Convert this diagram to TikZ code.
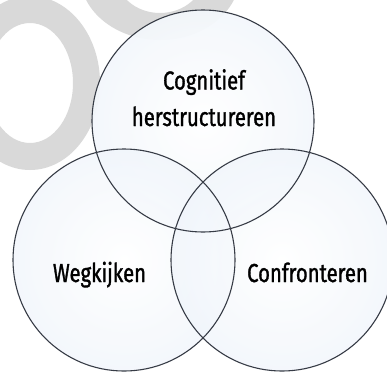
\documentclass[tikz,border=0pt]{standalone}
\usepackage{fontspec}
\newfontfamily\lblfont[FakeStretch=0.78,FakeBold=1.2]{Fira Sans}
\definecolor{wmgray}{RGB}{217,217,217}
\definecolor{bubA}{RGB}{240,245,251}
\definecolor{bubB}{RGB}{206,219,238}
\definecolor{bubC}{RGB}{160,182,215}
\definecolor{rimcol}{RGB}{55,60,70}
\pgfdeclareradialshading{bubbleshade}{\pgfpoint{0bp}{0bp}}{color(0bp)=(white); color(25bp)=(bubA); color(40bp)=(bubB); color(47bp)=(bubC); color(50bp)=(bubC)}
\begin{document}
\begin{tikzpicture}[x=1pt,y=-1pt,
  bubble/.style={circle, minimum size=222pt, inner sep=0pt, shading=bubbleshade, fill opacity=0.72},
  rim/.style={circle, minimum size=222pt, inner sep=0pt, draw=rimcol, line width=1.1pt},
  ringmark/.style={fill=wmgray, even odd rule},
  lbl/.style={font=\lblfont\fontsize{26}{30}\selectfont, text=black, inner sep=0pt, anchor=base}]
\useasboundingbox (0,0) rectangle (387,372);
\clip (0,0) rectangle (387,372);
\fill[white] (0,0) rectangle (387,372);
% watermark rings
\path[ringmark] (30,83) ellipse [x radius=70, y radius=87] (30,83) ellipse [x radius=43, y radius=60];
\path[ringmark] (160,-25) ellipse [x radius=80, y radius=65] (160,-25) ellipse [x radius=44, y radius=38];
% white base under bubbles hides most of the watermark
\fill[white, fill opacity=0.8] (203,121) circle [radius=111];
% bubbles
\node[bubble] (top) at (203,121) {};
\node[bubble] (left) at (124,260) {};
\node[bubble] (right) at (282,260) {};
\node[rim] (topr) at (top) {};
\node[rim] (leftr) at (left) {};
\node[rim] (rightr) at (right) {};
% labels
\node[lbl] (t1) at (204,89.5) {Cognitief};
\node[lbl] (t2) at (204,126) {herstructureren};
\node[lbl] (w) at (99.5,282) {Wegkijken};
\node[lbl] (c) at (307.5,282) {Confronteren};
\end{tikzpicture}
\end{document}
